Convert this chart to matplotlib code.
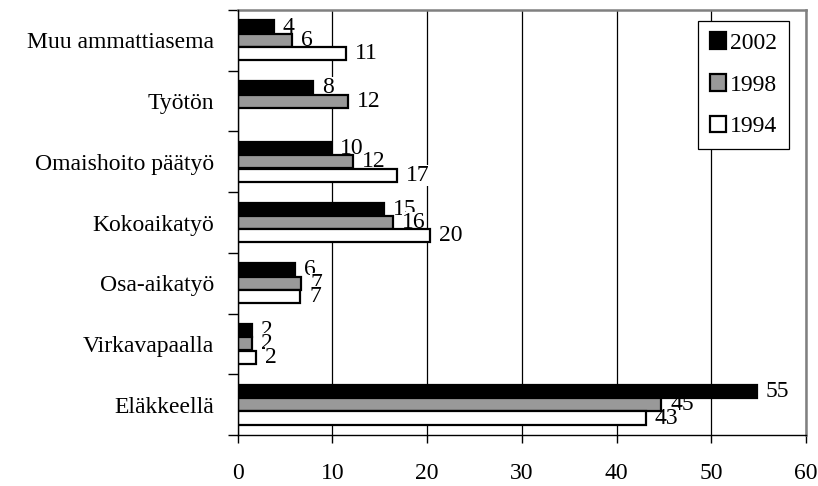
import numpy as np
import matplotlib
matplotlib.use("Agg")
import matplotlib.pyplot as plt
from matplotlib.patches import Patch

plt.rcParams['font.family'] = ['Liberation Serif', 'DejaVu Serif']

categories = ["Muu ammattiasema", "Työtön", "Omaishoito päätyö", "Kokoaikatyö",
              "Osa-aikatyö", "Virkavapaalla", "Eläkkeellä"]
years = ["2002", "1998", "1994"]
v2002 = [3.8, 8.0, 9.8, 15.4, 6.0, 1.5, 54.8]
v1998 = [5.7, 11.6, 12.2, 16.4, 6.7, 1.5, 44.7]
v1994 = [11.4, np.nan, 16.8, 20.3, 6.6, 1.9, 43.1]
xticks = [0, 10, 20, 30, 40, 50, 60]

series = [v2002, v1998, v1994]
fills = ["#000000", "#999999", "#ffffff"]

fig = plt.figure(figsize=(8.18, 4.86), dpi=100)
ax = fig.add_axes([0.2906, 0.1049, 0.6947, 0.8745])

y = np.arange(len(categories))
h = 0.215
offsets = [-0.22, 0.0, 0.22]

# bars sit above the value labels
for vals, col, off, yr in zip(series, fills, offsets, years):
    ax.barh(y + off, vals, height=h, color=col, edgecolor="black",
            linewidth=1.6, zorder=40, label=yr)

# value labels with white backing; later labels cover earlier ones
z = 5
for i in range(len(categories)):
    for vals, off in zip(series, offsets):
        v = vals[i]
        if np.isnan(v):
            continue
        ax.annotate(f"{v:.0f}", xy=(v, y[i] + off), xytext=(6.5, 0),
                    textcoords="offset points", va="center", ha="left",
                    fontsize=17, zorder=z,
                    bbox=dict(boxstyle="square,pad=0.0", fc="white", ec="none"))
        z += 1

ax.set_xlim(0, 60)
ax.set_ylim(len(categories) - 0.5, -0.5)

ax.set_xticks(xticks)
ax.set_xticklabels([str(t) for t in xticks], fontsize=17)
ax.tick_params(axis="x", direction="out", length=6, width=1, pad=14)

ax.set_yticks(np.arange(-0.5, len(categories), 1.0))
ax.set_yticklabels([])
ax.set_yticks(y, minor=True)
ax.set_yticklabels(categories, minor=True, fontsize=17)
ax.tick_params(axis="y", which="major", direction="out", length=7, width=1)
ax.tick_params(axis="y", which="minor", length=0, pad=17)

ax.grid(axis="x", color="black", linewidth=0.9, zorder=1)
ax.set_axisbelow(True)

for side in ["top", "right"]:
    ax.spines[side].set_color("#808080")
    ax.spines[side].set_linewidth(1.8)
for side in ["left", "bottom"]:
    ax.spines[side].set_color("black")
    ax.spines[side].set_linewidth(1.0)
    ax.spines[side].set_zorder(45)

handles = [Patch(facecolor=c, edgecolor="black", linewidth=1.6, label=yr)
           for c, yr in zip(fills, years)]
leg = ax.legend(handles=handles, loc="upper right", bbox_to_anchor=(0.97, 0.975),
                fontsize=17, frameon=True, fancybox=False, framealpha=1,
                edgecolor="black", handlelength=0.7, handleheight=0.7,
                handletextpad=0.15, labelspacing=0.85, borderpad=0.5,
                borderaxespad=0)
leg.get_frame().set_linewidth(0.9)
leg.set_zorder(60)

fig.savefig("out.png", dpi=100)
